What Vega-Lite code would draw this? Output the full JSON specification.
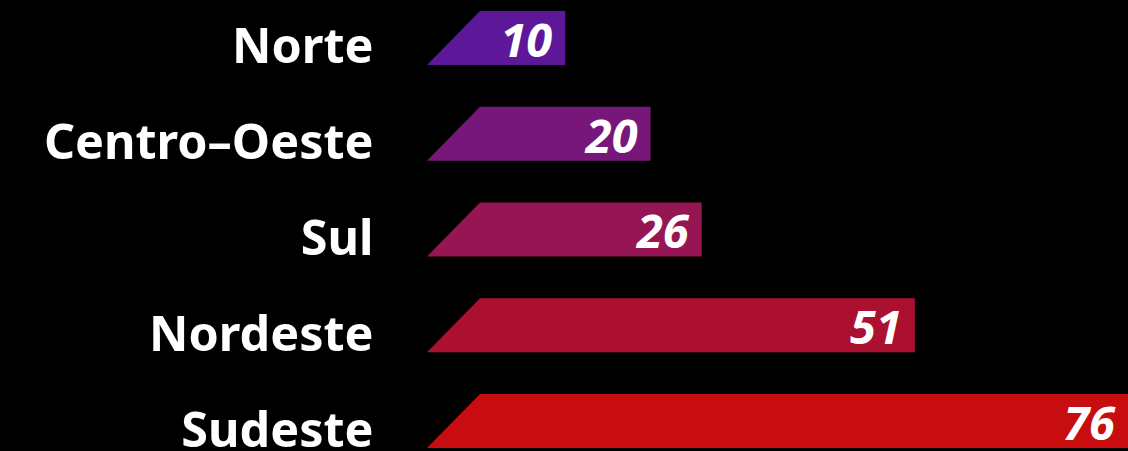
{
  "$schema": "https://vega.github.io/schema/vega-lite/v6.json",
  "autosize": {"type": "none"},
  "width": 648,
  "height": 451,
  "padding": {"left": 480, "top": 0, "right": 0, "bottom": 0},
  "background": "#000000",
  "config": {"view": {"stroke": null}},
  "data": {"values": [
    {"regiao": "Norte", "valor": 10},
    {"regiao": "Centro–Oeste", "valor": 20},
    {"regiao": "Sul", "valor": 26},
    {"regiao": "Nordeste", "valor": 51},
    {"regiao": "Sudeste", "valor": 76}
  ]},
  "encoding": {
    "y": {
      "field": "regiao", "type": "nominal",
      "sort": ["Norte", "Centro–Oeste", "Sul", "Nordeste", "Sudeste"],
      "scale": {"paddingInner": 0.436, "paddingOuter": 0.073, "align": 0.786},
      "axis": {
        "title": null, "domain": false, "ticks": false,
        "labelPadding": 107, "labelFont": "Noto Sans", "labelFontWeight": "bold",
        "labelFontSize": 48.5, "labelColor": "#ffffff", "labelLimit": 0,
        "labelBaseline": "alphabetic", "labelOffset": 25.5
      }
    },
    "color": {
      "field": "regiao", "type": "nominal", "legend": null,
      "scale": {
        "domain": ["Norte", "Centro–Oeste", "Sul", "Nordeste", "Sudeste"],
        "range": ["#5c1899", "#78177a", "#961654", "#ab1031", "#c80d10"]
      }
    }
  },
  "layer": [
    {
      "mark": {"type": "bar"},
      "encoding": {
        "x": {"field": "valor", "type": "quantitative", "scale": {"domain": [0, 76], "nice": false}, "axis": null}
      }
    },
    {
      "mark": {"type": "point", "shape": "M -1.963 1 L 0 -1 L 0 1 Z", "filled": true, "opacity": 1, "size": 2916, "clip": false},
      "encoding": {
        "x": {"datum": 0, "type": "quantitative"}
      }
    },
    {
      "mark": {"type": "text", "align": "right", "baseline": "alphabetic", "dx": -13, "dy": 19, "font": "Open Sans", "fontWeight": "bold", "fontStyle": "italic", "fontSize": 47, "color": "#ffffff"},
      "encoding": {
        "x": {"field": "valor", "type": "quantitative"},
        "text": {"field": "valor", "type": "quantitative"},
        "color": {"value": "#ffffff"}
      }
    }
  ]
}
